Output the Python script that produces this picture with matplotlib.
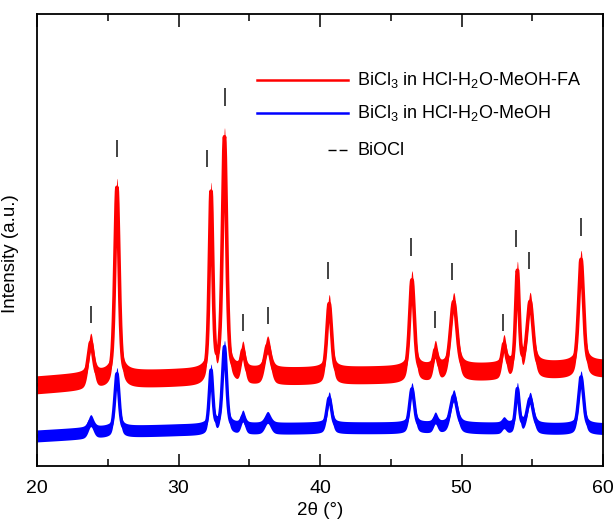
import numpy as np
import matplotlib
matplotlib.use("Agg")
import matplotlib.pyplot as plt
from matplotlib.ticker import MultipleLocator

plt.rcParams['font.family'] = ['Liberation Sans', 'DejaVu Sans']
plt.rcParams['mathtext.default'] = 'regular'

# peak list of the two diffractograms (2theta in degrees, height in a.u., FWHM in degrees)
peak_pos = [23.8, 25.65, 32.3, 33.25, 34.55, 36.3, 40.65, 46.5, 48.15, 49.45, 53.0, 53.95, 54.85, 58.45]
peak_fwhm = [0.45, 0.36, 0.3, 0.36, 0.35, 0.5, 0.4, 0.4, 0.35, 0.55, 0.35, 0.3, 0.5, 0.42]
red_height = [38, 192, 182, 238, 24, 31, 72, 94, 22, 71, 26, 98, 68, 110]
blue_height = [12, 58, 58, 82, 12, 11, 30, 39, 9, 32, 5, 39, 30, 52]

# smooth background of each pattern
bg_pos = [20, 25, 30, 35, 40, 45, 50, 55, 60]
red_bg = [81, 86, 88, 89, 90, 91, 93, 95, 97]
blue_bg = [30, 34, 36, 37, 38, 38, 38, 37, 37]

# half width of the counting noise band
red_noise = 9
blue_noise = 6

# BiOCl reference reflections (position, bottom and top of the mark)
ref_pos = [23.8, 25.65, 32.0, 33.3, 34.55, 36.3, 40.6, 46.4, 48.1, 49.3, 52.9, 53.85, 54.8, 58.45]
ref_lo = [143, 309, 299, 360, 135, 142, 187, 210, 138, 186, 135, 219, 197, 230]
ref_hi = [160, 326, 316, 378, 152, 159, 204, 228, 155, 203, 152, 236, 214, 248]

two_theta = np.linspace(20, 60, 4001)


def pattern(heights, bg):
    y = np.interp(two_theta, bg_pos, bg)
    for p, h, w in zip(peak_pos, heights, peak_fwhm):
        hw = w / 2.0
        lor = 1.0 / (1.0 + ((two_theta - p) / hw) ** 2)
        gau = np.exp(-np.log(2) * ((two_theta - p) / hw) ** 2)
        y = y + h * (0.5 * lor + 0.5 * gau)
    return y


red = pattern(red_height, red_bg)
blue = pattern(blue_height, blue_bg)

fig = plt.figure(figsize=(6.13, 5.28), dpi=100)
ax = fig.add_axes([37 / 613, 62 / 528, 566 / 613, 452 / 528])

ax.fill_between(two_theta, red - red_noise, red + red_noise, color='#ff0000', lw=0)
ax.plot(two_theta, red, color='#ff0000', lw=2.6)
ax.fill_between(two_theta, blue - blue_noise, blue + blue_noise, color='#0000ff', lw=0)
ax.plot(two_theta, blue, color='#0000ff', lw=2.4)

ax.vlines(ref_pos, ref_lo, ref_hi, color='#222222', lw=1.2)

ax.set_xlim(20, 60)
ax.set_ylim(0, 452)
ax.set_yticks([])
ax.xaxis.set_major_locator(MultipleLocator(10))
ax.xaxis.set_minor_locator(MultipleLocator(5))
ax.tick_params(axis='x', which='both', direction='in', top=True, labelsize=14, pad=10)
ax.tick_params(axis='x', which='major', length=9, width=1.1)
ax.tick_params(axis='x', which='minor', length=4.8, width=1.1)
for s in ax.spines.values():
    s.set_linewidth(1.3)

ax.set_xlabel('2θ (°)', fontsize=13.5, labelpad=4)
ax.set_ylabel('Intensity (a.u.)', fontsize=13.5)
ax.yaxis.set_label_coords(-0.032, 0.47)

# legend drawn by hand
tr = ax.transAxes
ax.plot([0.389, 0.549], [0.854, 0.854], color='#ff0000', lw=1.8, transform=tr)
ax.text(0.565, 0.854, r'BiCl$_3$ in HCl-H$_2$O-MeOH-FA', transform=tr, fontsize=13, va='center')
ax.plot([0.389, 0.549], [0.781, 0.781], color='#0000ff', lw=1.8, transform=tr)
ax.text(0.565, 0.781, r'BiCl$_3$ in HCl-H$_2$O-MeOH', transform=tr, fontsize=13, va='center')
ax.plot([0.514, 0.548], [0.699, 0.699], color='black', lw=1, ls=(0, (5.8, 2.2)), transform=tr)
ax.text(0.567, 0.699, 'BiOCl', transform=tr, fontsize=13, va='center')

fig.savefig('out.png', dpi=100)
